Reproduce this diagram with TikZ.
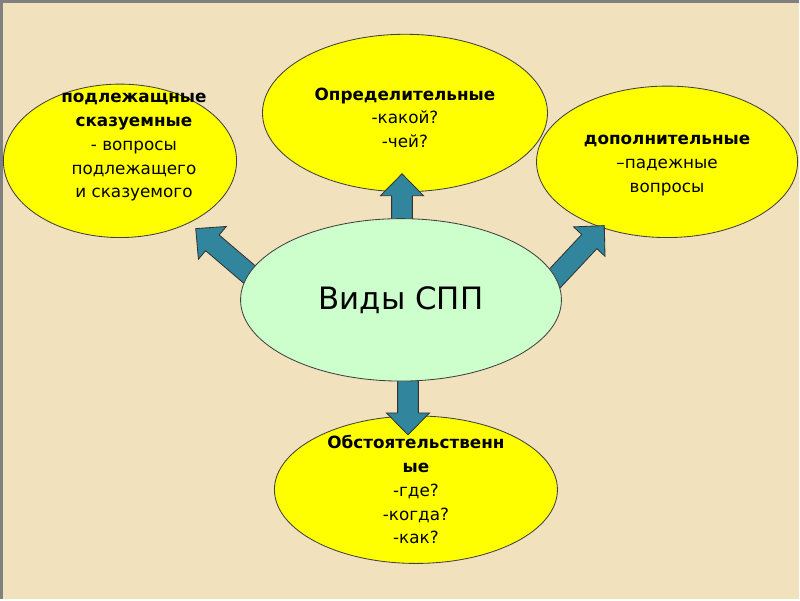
\documentclass[tikz,border=0pt]{standalone}
\usepackage{fontspec}
\setmainfont{DejaVu Sans}
\usetikzlibrary{calc,shapes.geometric}
\definecolor{slidebg}{RGB}{241,226,189}
\definecolor{arrowteal}{RGB}{49,133,156}
\definecolor{mintfill}{RGB}{204,255,204}
\definecolor{pureyellow}{RGB}{255,255,0}
\pgfdeclarelayer{front}
\pgfsetlayers{main,front}
% block arrow from #1 (tail) to #2 (tip)
\newcommand{\blockarrow}[2]{%
 \coordinate (h) at ($(#2)!0.55cm!(#1)$);
 \draw[blockarrow] ($(#1)!0.26cm!90:(#2)$) -- ($(h)!0.26cm!90:(#2)$) -- ($(h)!0.54cm!90:(#2)$)
  -- (#2) -- ($(h)!0.54cm!-90:(#2)$) -- ($(h)!0.26cm!-90:(#2)$) -- ($(#1)!0.26cm!-90:(#2)$) -- cycle;}

\begin{document}
\begin{tikzpicture}[x=1cm,y=1cm,
 kind/.style={ellipse,draw=black!75,line width=.6pt,fill=pureyellow,inner sep=0pt},
 blockarrow/.style={draw=black!80,line width=.6pt,fill=arrowteal,line join=miter},
 txt/.style={align=center,inner sep=0pt,font=\fontsize{12}{17}\selectfont}]
 \fill[slidebg] (0,0) rectangle (20,15);
 \draw[black!50,line width=2pt] (0,0)--(0,15)--(20,15);
 \useasboundingbox (0,0) rectangle (20,15);
 % the four kinds
 \node[kind,minimum width=5.85cm,minimum height=3.85cm,
  label={[txt,xshift=.35cm,yshift=.34cm]center:{\textbf{подлежащные}\\\textbf{сказуемные}\\- вопросы\\подлежащего\\и сказуемого}}] (podl) at (2.975,11) {};
 \node[kind,minimum width=7.15cm,minimum height=3.95cm,
  label={[txt,yshift=-.12cm]center:{\textbf{Определительные}\\-какой?\\-чей?}}] (opr) at (10.125,12.2) {};
 \node[kind,minimum width=6.55cm,minimum height=3.8cm,
  label={[txt,yshift=-.09cm]center:{\textbf{дополнительные}\\–падежные\\вопросы}}] (dop) at (16.7,10.975) {};
 \node[kind,minimum width=7.1cm,minimum height=3.7cm,
  label={[txt]center:{\textbf{Обстоятельственн}\\\textbf{ые}\\-где?\\-когда?\\-как?}}] (obst) at (10.4,2.75) {};
 \begin{pgfonlayer}{front}
  \node[kind,fill=mintfill,minimum width=8.05cm,minimum height=4.075cm,
   font=\fontsize{22}{26}\selectfont] (vidy) at (10.025,7.5125) {Виды СПП};
 \end{pgfonlayer}
 % arrows
 \coordinate (sO) at ($(vidy)+(0.025,1.49)$);
 \coordinate (tO) at ($(opr)+(-0.075,-1.525)$);
 \coordinate (sP) at ($(vidy)+(-3.63,0.49)$);
 \coordinate (tP) at ($(podl)+(1.9,-1.7)$);
 \coordinate (sD) at ($(vidy)+(3.73,0.4)$);
 \coordinate (tD) at ($(dop)+(-1.575,-1.6)$);
 \coordinate (sB) at ($(vidy)+(0.175,-1.51)$);
 \coordinate (tB) at ($(obst)+(-0.2,1.375)$);
 \blockarrow{sO}{tO}
 \blockarrow{sP}{tP}
 \blockarrow{sD}{tD}
 \blockarrow{sB}{tB}
\end{tikzpicture}
\end{document}
